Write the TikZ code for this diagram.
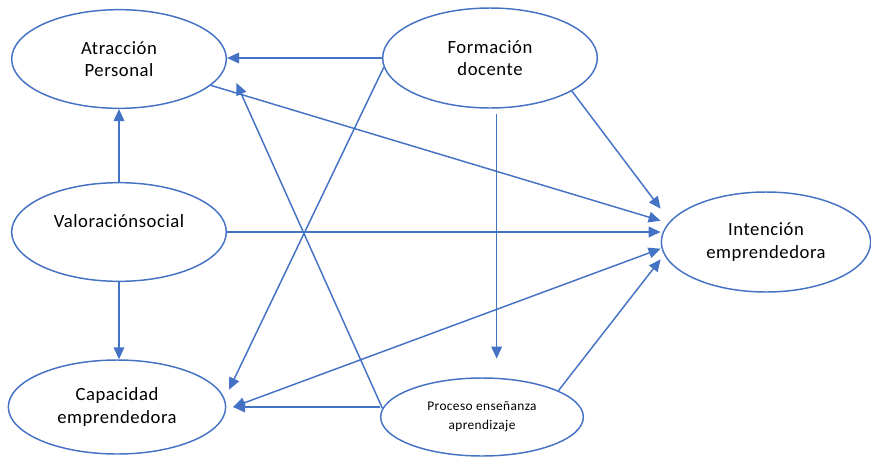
\documentclass[tikz,border=0pt]{standalone}
\usepackage{fontspec}
\setmainfont{Carlito}[LetterSpace=3]
\usepackage{xcolor}
\usetikzlibrary{positioning, arrows.meta, shapes.geometric, calc}
\definecolor{lineblue}{RGB}{68,114,196}

\begin{document}
\begin{tikzpicture}[x=0.75pt, y=-0.75pt, >={Triangle[length=9pt, width=8pt]}]
	\tikzset{
		var/.style={ellipse, draw=lineblue, line width=1.1pt, inner sep=0pt, minimum width=161pt, minimum height=74pt, align=center, font=\fontsize{14}{17}\selectfont},
		link/.style={->, draw=lineblue, line width=1.1pt},
	}
	\useasboundingbox (0,0) rectangle (871,458);
	
	% Constructs
	\node[var] (AP) at (119, 59) {Atracción\\Personal};
	\node[var, minimum height=75pt] (FD) at (490, 58) {Formación\\docente};
	\node[var] (VS) at (119, 232) {Valoraciónsocial\\\mbox{}};
	\node[var, minimum width=163pt, minimum height=70.5pt] (CE) at (117, 407) {Capacidad\\emprendedora};
	\node[var, minimum width=157pt, minimum height=75pt] (IE) at (766, 242) {Intención\\emprendedora};
	\node[var, minimum width=152pt, minimum height=58.5pt, font=\fontsize{10}{14}\selectfont] (PE) at (482, 417) {Proceso enseñanza\\aprendizaje};
	
	% Connectors
	\draw[link] (FD.west) -- (FD.west -| AP.east);
	\draw[link] (AP.-16) -- ([yshift=16pt]IE.west);
	\draw[link] (PE.175) -- ([xshift=7pt, yshift=-18pt]AP.east);
	\draw[link] (FD.185) -- ([xshift=2pt, yshift=13pt]CE.east);
	\draw[link, shorten >=14pt] ([xshift=5pt, yshift=-4pt]FD.south) -- ([xshift=5pt]FD.south |- PE.north);
	\draw[link] (FD.-22) -- ([yshift=25pt]IE.west);
	\draw[link] (VS.north) -- (AP.south);
	\draw[link] (VS.south) -- (VS.south |- CE.north);
	\draw[link] (VS.east) -- (VS.east -| IE.west);
	\draw[link, <->] ([xshift=5pt]CE.east) -- ([yshift=-5pt]IE.west);
	\draw[link] (PE.west |- CE.east) -- ([xshift=5pt]CE.east);
	\draw[link] (PE.19) -- ([yshift=-13pt]IE.west);
\end{tikzpicture}
\end{document}
